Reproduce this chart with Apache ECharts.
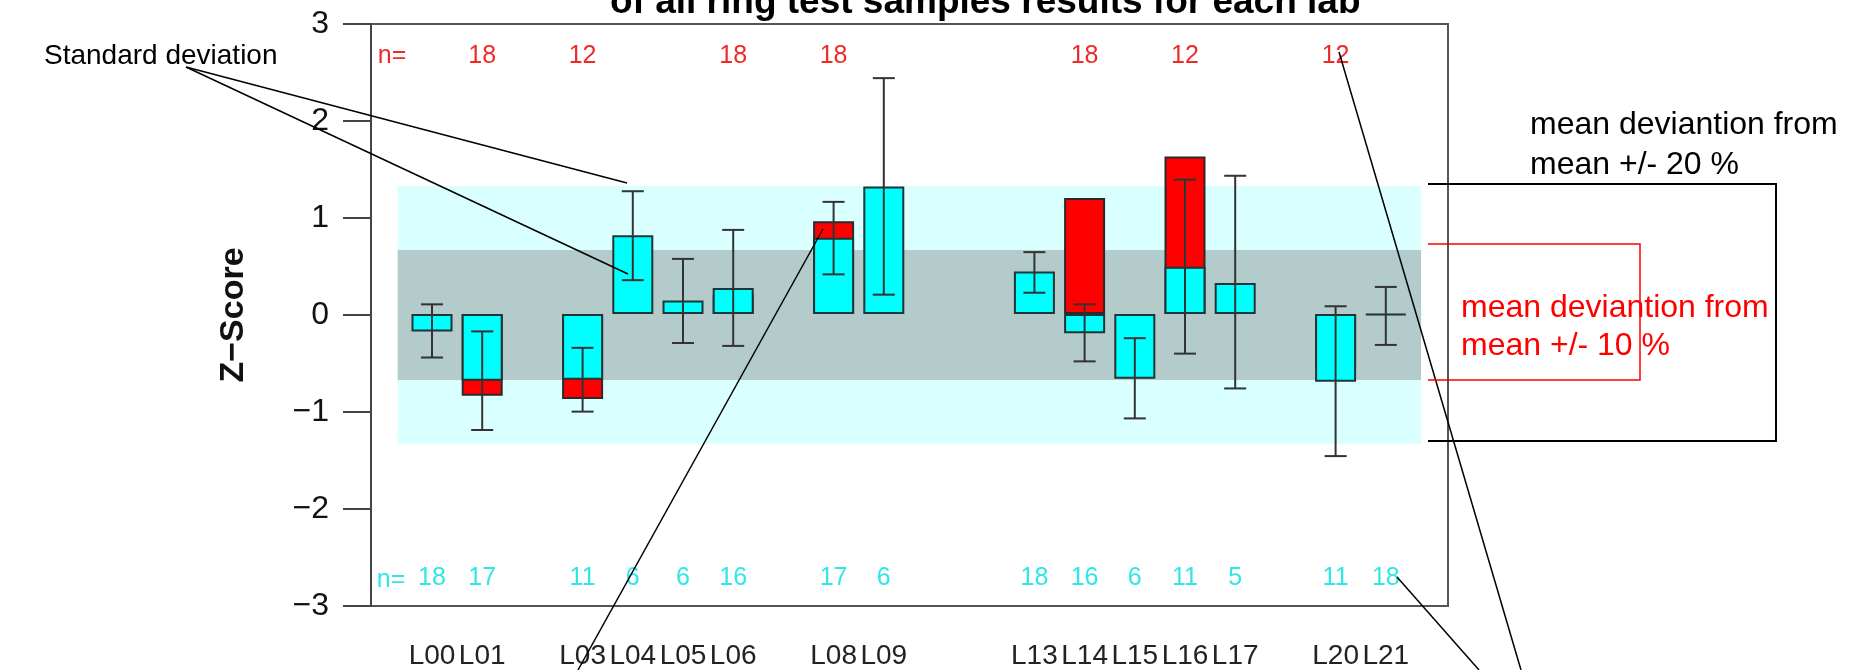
<!DOCTYPE html>
<html><head><meta charset="utf-8">
<script src="https://cdn.jsdelivr.net/npm/echarts@6/dist/echarts.min.js"></script>
<style>html,body{margin:0;padding:0;background:#fff}#c{width:1858px;height:670px}</style>
</head><body><div id="c"></div>
<script>
// ---- data ----
const categories = ['L00','L01','','L03','L04','L05','L06','','L08','L09','','','L13','L14','L15','L16','L17','','L20','L21'];
const cyanValues = [-0.18,-0.69,null,-0.68,0.815,0.14,0.27,null,0.79,1.32,null,null,0.44,-0.20,-0.67,0.49,0.32,null,-0.70,-0.01];
const redValues  = [null,-0.845,null,-0.88,null,null,0.20,null,0.96,null,null,null,null,1.20,null,1.63,null,null,-0.55,null];
const sdLow  = [-0.45,-1.20,null,-1.01,0.35,-0.30,-0.33,null,0.41,0.20,null,null,0.22,-0.49,-1.08,-0.41,-0.77,null,-1.47,-0.32];
const sdHigh = [0.10,-0.18,null,-0.35,1.27,0.57,0.87,null,1.16,2.44,null,null,0.64,0.10,-0.25,1.39,1.43,null,0.08,0.28];
const nRed  = [null,18,null,12,null,null,18,null,18,null,null,null,null,18,null,12,null,null,12,null];
const nCyan = [18,17,null,11,6,6,16,null,17,6,null,null,18,16,6,11,5,null,11,18];
const yTicks = [-3,-2,-1,0,1,2,3];
const band20 = [-1.33, 1.33];
const band10 = [-0.67, 0.67];
const nLabelLevel = [2.67, -2.73];

const FONT = "'Liberation Sans', Arial, Helvetica, sans-serif";
const chart = echarts.init(document.getElementById('c'));

const errData = [];
sdLow.forEach((lo, i) => { if (lo !== null) errData.push([i, lo, sdHigh[i]]); });
const nTopData = [], nBotData = [];
nRed.forEach((n, i) => { if (n !== null) nTopData.push([i, nLabelLevel[0], n]); });
nCyan.forEach((n, i) => { if (n !== null) nBotData.push([i, nLabelLevel[1], n]); });

function nText(color) {
  return function (params, api) {
    const p = api.coord([api.value(0), api.value(1)]);
    return { type: 'text', x: p[0], y: p[1],
      style: { text: String(api.value(2)), fill: color, font: '25px ' + FONT, align: 'center', verticalAlign: 'middle' } };
  };
}

const option = {
  animation: false,
  backgroundColor: '#ffffff',
  grid: [
    { left: 371, top: 24, width: 1077, height: 582, show: true, borderColor: '#555', borderWidth: 2, backgroundColor: 'transparent' },
    { left: 406.9, top: 24, width: 1004, height: 582 }
  ],
  xAxis: [
    { gridIndex: 0, type: 'value', min: 0, max: 100, show: false },
    { gridIndex: 1, type: 'category', data: categories, boundaryGap: true,
      axisLine: { show: false }, axisTick: { show: false },
      axisLabel: { interval: 0, margin: 38, fontSize: 28, fontFamily: FONT, color: '#222' } }
  ],
  yAxis: [
    { gridIndex: 0, type: 'value', min: yTicks[0], max: yTicks[yTicks.length - 1], interval: 1,
      axisLine: { show: true, lineStyle: { color: '#444', width: 2 } },
      axisTick: { show: true, length: 28, lineStyle: { color: '#444', width: 2 } },
      axisLabel: { margin: 42, fontSize: 32, fontFamily: FONT, color: '#111',
        formatter: v => (v < 0 ? '\u2212' + Math.abs(v) : String(v)) },
      splitLine: { show: false } },
    { gridIndex: 1, type: 'value', min: yTicks[0], max: yTicks[yTicks.length - 1], show: false, splitLine: { show: false } }
  ],
  series: [
    { type: 'line', xAxisIndex: 0, yAxisIndex: 0, data: [[0, 0]], symbol: 'none', lineStyle: { opacity: 0 }, silent: true, z: 0,
      markArea: { silent: true, data: [
        [{ xAxis: 2.48, yAxis: band20[0], itemStyle: { color: '#daffff' } }, { xAxis: 97.5, yAxis: band20[1] }],
        [{ xAxis: 2.48, yAxis: band10[0], itemStyle: { color: '#b4cbcb' } }, { xAxis: 97.5, yAxis: band10[1] }]
      ] } },
    { type: 'bar', name: 'red', xAxisIndex: 1, yAxisIndex: 1, data: redValues, barWidth: 41, barGap: '-100%', z: 2,
      itemStyle: { color: '#ff0000', borderColor: '#2a2a2a', borderWidth: 2 } },
    { type: 'bar', name: 'cyan', xAxisIndex: 1, yAxisIndex: 1, data: cyanValues, barWidth: 41, barGap: '-100%', z: 3,
      itemStyle: { color: '#00ffff', borderColor: '#1f3535', borderWidth: 2 } },
    { type: 'custom', xAxisIndex: 1, yAxisIndex: 1, data: errData, z: 4,
      renderItem: function (params, api) {
        const i = api.value(0);
        const p1 = api.coord([i, api.value(1)]);
        const p2 = api.coord([i, api.value(2)]);
        const w = 11;
        const st = { stroke: '#333', lineWidth: 2 };
        return { type: 'group', children: [
          { type: 'line', shape: { x1: p1[0], y1: p1[1], x2: p2[0], y2: p2[1] }, style: st },
          { type: 'line', shape: { x1: p1[0] - w, y1: p1[1], x2: p1[0] + w, y2: p1[1] }, style: st },
          { type: 'line', shape: { x1: p2[0] - w, y1: p2[1], x2: p2[0] + w, y2: p2[1] }, style: st }
        ] };
      } },
    { type: 'custom', xAxisIndex: 1, yAxisIndex: 1, data: nTopData, z: 5, renderItem: nText('#ee2a2a') },
    { type: 'custom', xAxisIndex: 1, yAxisIndex: 1, data: nBotData, z: 5, renderItem: nText('#30e6e6') }
  ],
  graphic: [
    { type: 'text', x: 610, y: 3, z: 100, style: { text: 'of all ring test samples results for each lab', font: 'bold 37px ' + FONT, fill: '#000', align: 'left', verticalAlign: 'middle' } },
    { type: 'text', x: 234, y: 315, rotation: Math.PI / 2, z: 100, style: { text: 'Z\u2212Score', font: 'bold 34px ' + FONT, fill: '#111', align: 'center', verticalAlign: 'middle' } },
    { type: 'text', x: 392, y: 56, z: 100, style: { text: 'n=', font: '25px ' + FONT, fill: '#ee2a2a', align: 'center', verticalAlign: 'middle' } },
    { type: 'text', x: 391, y: 580, z: 100, style: { text: 'n=', font: '25px ' + FONT, fill: '#30e6e6', align: 'center', verticalAlign: 'middle' } },
    { type: 'text', x: 44, y: 56, z: 100, style: { text: 'Standard deviation', font: '28px ' + FONT, fill: '#000', align: 'left', verticalAlign: 'middle' } },
    { type: 'line', z: 100, shape: { x1: 186, y1: 67, x2: 627, y2: 183 }, style: { stroke: '#000', lineWidth: 1.5 } },
    { type: 'line', z: 100, shape: { x1: 186, y1: 67, x2: 628, y2: 274 }, style: { stroke: '#000', lineWidth: 1.5 } },
    { type: 'line', z: 100, shape: { x1: 823, y1: 229, x2: 578, y2: 670 }, style: { stroke: '#000', lineWidth: 1.5 } },
    { type: 'line', z: 100, shape: { x1: 1339, y1: 52, x2: 1521, y2: 670 }, style: { stroke: '#000', lineWidth: 1.5 } },
    { type: 'line', z: 100, shape: { x1: 1397, y1: 577, x2: 1479, y2: 670 }, style: { stroke: '#000', lineWidth: 1.5 } },
    { type: 'polyline', z: 100, shape: { points: [[1428, 184], [1776, 184], [1776, 441], [1428, 441]] }, style: { stroke: '#000', lineWidth: 2, fill: null } },
    { type: 'polyline', z: 100, shape: { points: [[1428, 244], [1640, 244], [1640, 380], [1428, 380]] }, style: { stroke: '#ff0000', lineWidth: 1.5, fill: null } },
    { type: 'text', x: 1530, y: 125, z: 100, style: { text: 'mean deviantion from', font: '32px ' + FONT, fill: '#000', align: 'left', verticalAlign: 'middle' } },
    { type: 'text', x: 1530, y: 165, z: 100, style: { text: 'mean +/- 20 %', font: '32px ' + FONT, fill: '#000', align: 'left', verticalAlign: 'middle' } },
    { type: 'text', x: 1461, y: 308, z: 100, style: { text: 'mean deviantion from', font: '32px ' + FONT, fill: '#ff0000', align: 'left', verticalAlign: 'middle' } },
    { type: 'text', x: 1461, y: 346, z: 100, style: { text: 'mean +/- 10 %', font: '32px ' + FONT, fill: '#ff0000', align: 'left', verticalAlign: 'middle' } }
  ]
};
chart.setOption(option);
</script>
</body></html>
